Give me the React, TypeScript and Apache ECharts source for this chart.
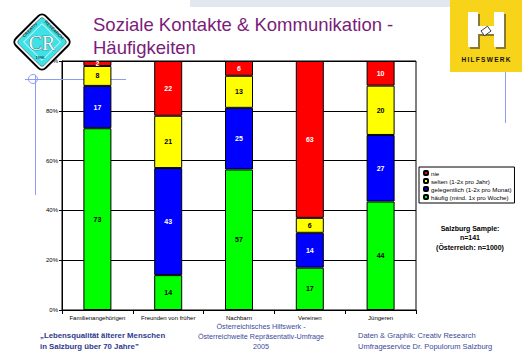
import React, { useEffect, useRef } from "react";
import * as echarts from "echarts";

const categories = ["Familienangehörigen", "Freunden von früher", "Nachbarn", "Vereinen", "Jüngeren"];
const haeufig = [73, 14, 57, 17, 44];
const gelegentlich = [17, 43, 25, 14, 27];
const selten = [8, 21, 13, 6, 20];
const nie = [2, 22, 6, 63, 10];
const seriesNames = [
  "häufig (mind. 1x pro Woche)",
  "gelegentlich (1-2x pro Monat)",
  "selten (1-2x pro Jahr)",
  "nie",
];
const legendOrder = [seriesNames[3], seriesNames[2], seriesNames[1], seriesNames[0]];
const titleLines = ["Soziale Kontakte & Kommunikation -", "Häufigkeiten"];
const sampleLines = ["Salzburg Sample:", "n=141", "(Österreich: n=1000)"];
const footLeft = ["„Lebensqualität älterer Menschen", "in Salzburg über 70 Jahre\u201D"];
const footCenter = ["Österreichisches Hilfswerk -", "Österreichweite Repräsentativ-Umfrage", "2005"];
const footRight = ["Daten & Graphik: Creativ Research", "Umfrageservice Dr. Populorum Salzburg"];

const totals = categories.map((_, i) => haeufig[i] + gelegentlich[i] + selten[i] + nie[i]);

const FONT = "Liberation Sans";

function mk(name: string, raw: number[], color: string, labelColor: string) {
  return {
    name,
    type: "bar",
    stack: "total",
    barWidth: 28,
    z: 3,
    data: raw.map((v, i) => (v / totals[i]) * 100),
    itemStyle: { color, borderColor: "#000", borderWidth: 1 },
    label: {
      show: true,
      position: "inside",
      fontSize: 7,
      fontWeight: "bold",
      fontFamily: FONT,
      color: labelColor,
      formatter: (p: any) => String(raw[p.dataIndex]),
    },
    emphasis: { disabled: true },
  };
}

function txt(text: string, x: number, y: number, opts: any = {}) {
  return {
    type: "text",
    z: 10,
    style: {
      text,
      x,
      y,
      fill: opts.fill || "#000",
      fontSize: opts.fontSize || 7,
      fontFamily: opts.fontFamily || FONT,
      fontWeight: opts.fontWeight || "normal",
      textAlign: opts.align || "left",
      textVerticalAlign: "middle",
    },
  };
}

export default function App() {
  const ref = useRef<HTMLDivElement>(null);
  useEffect(() => {
    if (!ref.current) return;
    const chart = echarts.init(ref.current, undefined, { renderer: "svg" });
    const graphics: any[] = [
      { type: "rect", shape: { x: 190, y: 0, width: 260, height: 7 }, style: { fill: "#e3e7f0" }, z: 1 },
      // crosshair artifacts
      { type: "line", shape: { x1: 25, y1: 79.5, x2: 126, y2: 79.5 }, style: { stroke: "#8c9cf0", lineWidth: 1 }, z: 1 },
      { type: "line", shape: { x1: 35.5, y1: 75, x2: 35.5, y2: 195 }, style: { stroke: "#8c9cf0", lineWidth: 1 }, z: 1 },
      { type: "circle", shape: { cx: 33, cy: 79, r: 4.5 }, style: { fill: "none", stroke: "#8c9cf0", lineWidth: 1 }, z: 1 },
      { type: "line", shape: { x1: 505.5, y1: 72, x2: 505.5, y2: 123 }, style: { stroke: "#8c9cf0", lineWidth: 1 }, z: 1 },
      // left logo
      {
        type: "rect", x: 42, y: 42, rotation: Math.PI / 4,
        shape: { x: -21, y: -21, width: 42, height: 42, r: 5 },
        style: { fill: "#fff", stroke: "#000", lineWidth: 2 }, z: 5,
      },
      {
        type: "rect", x: 42, y: 42, rotation: Math.PI / 4,
        shape: { x: -18, y: -18, width: 36, height: 36, r: 3 },
        style: { fill: "#3ee2e6", stroke: "#333", lineWidth: 0.5 }, z: 5,
      },
      {
        type: "rect", x: 42, y: 42, rotation: Math.PI / 4,
        shape: { x: -13, y: -13, width: 26, height: 26 },
        style: { fill: "#3ee2e6", stroke: "#fff", lineWidth: 0.8 }, z: 5,
      },
      {
        type: "text", x: 30, y: 30, rotation: Math.PI / 4, z: 6,
        style: { text: "CREATIV", x: 0, y: 0, fontSize: 4.5, fontFamily: FONT, fill: "#000", textAlign: "center", textVerticalAlign: "middle" },
      },
      {
        type: "text", x: 54, y: 30, rotation: -Math.PI / 4, z: 6,
        style: { text: "RESEARCH", x: 0, y: 0, fontSize: 4.5, fontFamily: FONT, fill: "#000", textAlign: "center", textVerticalAlign: "middle" },
      },
      {
        type: "text", z: 6,
        style: { text: "CR", x: 42, y: 43, fontSize: 20, fontFamily: "Liberation Serif", fill: "#eefcfc", stroke: "#555", lineWidth: 0.7, textAlign: "center", textVerticalAlign: "middle" },
      },
      txt("1996", 40, 57, { fontSize: 4, align: "center" }),
      // right logo
      { type: "rect", shape: { x: 450, y: 0, width: 72, height: 72 }, style: { fill: "#f7d31a" }, z: 5 },
      { type: "rect", shape: { x: 470, y: 14, width: 10, height: 35 }, style: { fill: "#8a7a30" }, z: 5 },
      { type: "rect", shape: { x: 496, y: 14, width: 10, height: 35 }, style: { fill: "#8a7a30" }, z: 5 },
      { type: "rect", shape: { x: 478, y: 28, width: 20, height: 8 }, style: { fill: "#8a7a30" }, z: 5 },
      { type: "rect", shape: { x: 468, y: 12, width: 10, height: 35 }, style: { fill: "#fff" }, z: 6 },
      { type: "rect", shape: { x: 494, y: 12, width: 10, height: 35 }, style: { fill: "#fff" }, z: 6 },
      { type: "rect", shape: { x: 477, y: 26, width: 18, height: 8 }, style: { fill: "#fff" }, z: 6 },
      { type: "rect", x: 486, y: 31, rotation: Math.PI / 5, shape: { x: -4, y: -3, width: 8, height: 6 }, style: { fill: "#fff", stroke: "#222", lineWidth: 0.8 }, z: 7 },
      txt("H\u2009I\u2009L\u2009F\u2009S\u2009W\u2009E\u2009R\u2009K", 486, 59, { fontSize: 6.5, fontWeight: "bold", align: "center", fill: "#111" }),
      // title
      txt(titleLines[0], 93, 24, { fontSize: 18.5, fill: "#7a1c7a" }),
      txt(titleLines[1], 93, 47, { fontSize: 18.5, fill: "#7a1c7a" }),
      // sample
      ...sampleLines.map((s, i) => txt(s, 470, 228 + i * 9.5, { fontSize: 7, fontWeight: "bold", align: "center" })),
      // footers
      ...footLeft.map((s, i) => txt(s, 40, 335 + i * 11, { fontSize: 7.8, fontWeight: "bold", fill: "#2e3a8c" })),
      ...footCenter.map((s, i) => txt(s, 261, 326.5 + i * 10, { fontSize: 7.2, fill: "#3a4a9a", align: "center" })),
      ...footRight.map((s, i) => txt(s, 358, 335 + i * 11, { fontSize: 7.5, fill: "#3a4a9a" })),
    ];

    chart.setOption({
      animation: false,
      textStyle: { fontFamily: FONT },
      grid: { left: 62, top: 61, width: 354, height: 249, show: true, borderColor: "#000", borderWidth: 1, backgroundColor: "transparent" },
      legend: {
        orient: "vertical",
        left: 419,
        top: 167,
        padding: [3, 3, 3, 4],
        itemGap: 2,
        itemWidth: 4,
        itemHeight: 4,
        borderColor: "#000",
        borderWidth: 1,
        backgroundColor: "#fff",
        textStyle: { fontSize: 6.2, color: "#000", fontFamily: FONT, padding: [0, 0, 0, -2] },
        data: legendOrder,
        selectedMode: false,
      },
      xAxis: {
        type: "category",
        data: categories,
        axisLine: { show: true, lineStyle: { color: "#000", width: 1 } },
        axisTick: { show: true, length: 4, lineStyle: { color: "#000" } },
        axisLabel: { fontSize: 6, color: "#000", margin: 5, interval: 0 },
      },
      yAxis: {
        type: "value",
        min: 0,
        max: 100,
        interval: 20,
        axisLine: { show: true, lineStyle: { color: "#000", width: 1 } },
        axisTick: { show: true, length: 3, lineStyle: { color: "#000" } },
        axisLabel: { fontSize: 6, color: "#000", margin: 4, formatter: "{value}%" },
        splitLine: { show: true, lineStyle: { color: "#000", width: 1 } },
      },
      series: [
        mk(seriesNames[0], haeufig, "#00ff00", "#000"),
        mk(seriesNames[1], gelegentlich, "#0000ff", "#fff"),
        mk(seriesNames[2], selten, "#ffff00", "#000"),
        mk(seriesNames[3], nie, "#ff0000", "#fff"),
      ],
      graphic: graphics,
    });
    return () => chart.dispose();
  }, []);
  return <div ref={ref} style={{ position: "absolute", left: 0, top: 0, width: 522, height: 360, background: "#fff" }} />;
}
